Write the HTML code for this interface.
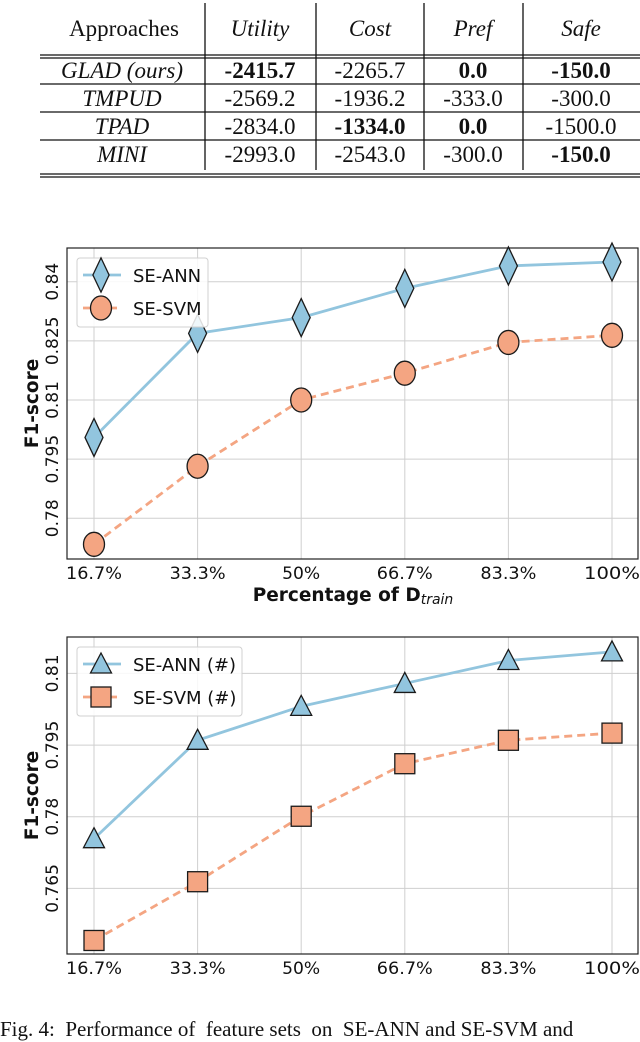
<!DOCTYPE html>
<html><head><meta charset="utf-8">
<style>
html,body{margin:0;padding:0;background:#fff;}
body{width:640px;height:1027px;overflow:hidden;position:relative;font-family:"Liberation Serif",serif;}
#tbl{position:absolute;left:0;top:0;}
#caption{position:absolute;left:0;top:1017px;font-size:21px;white-space:nowrap;color:#111;}
</style></head>
<body>
<svg id="tbl" width="640" height="190" font-family="Liberation Serif, serif" font-size="23" fill="#111">
  <g stroke="#111" stroke-width="1.3">
    <line x1="205" y1="3" x2="205" y2="170"/><line x1="316" y1="3" x2="316" y2="170"/>
    <line x1="424" y1="3" x2="424" y2="170"/><line x1="523" y1="3" x2="523" y2="170"/>
    <line x1="40" y1="55" x2="640" y2="55"/><line x1="40" y1="58" x2="640" y2="58"/>
    <line x1="40" y1="84" x2="640" y2="84"/><line x1="40" y1="112" x2="640" y2="112"/>
    <line x1="40" y1="140" x2="640" y2="140"/>
    <line x1="40" y1="174" x2="640" y2="174"/><line x1="40" y1="177" x2="640" y2="177"/>
  </g>
  <g text-anchor="middle">
    <text x="124" y="36">Approaches</text>
    <text x="260" y="36" font-style="italic">Utility</text>
    <text x="370" y="36" font-style="italic">Cost</text>
    <text x="473" y="36" font-style="italic">Pref</text>
    <text x="581" y="36" font-style="italic">Safe</text>

    <text x="122" y="78" font-style="italic">GLAD (ours)</text>
    <text x="260" y="78" font-weight="bold">-2415.7</text><text x="370" y="78">-2265.7</text>
    <text x="473" y="78" font-weight="bold">0.0</text><text x="581" y="78" font-weight="bold">-150.0</text>

    <text x="122" y="106" font-style="italic">TMPUD</text>
    <text x="260" y="106">-2569.2</text><text x="370" y="106">-1936.2</text>
    <text x="473" y="106">-333.0</text><text x="581" y="106">-300.0</text>

    <text x="122" y="134" font-style="italic">TPAD</text>
    <text x="260" y="134">-2834.0</text><text x="370" y="134" font-weight="bold">-1334.0</text>
    <text x="473" y="134" font-weight="bold">0.0</text><text x="581" y="134">-1500.0</text>

    <text x="122" y="162" font-style="italic">MINI</text>
    <text x="260" y="162">-2993.0</text><text x="370" y="162">-2543.0</text>
    <text x="473" y="162">-300.0</text><text x="581" y="162" font-weight="bold">-150.0</text>
  </g>
</svg>

<svg id="chart1" width="640" height="400" style="position:absolute;left:0;top:220px"></svg>
<svg id="chart2" width="640" height="380" style="position:absolute;left:0;top:600px"></svg>

<div id="caption">Fig. 4:&nbsp; Performance of&nbsp; feature sets&nbsp; on&nbsp; SE-ANN and SE-SVM and</div>

<script>
const categories = ["16.7%", "33.3%", "50%", "66.7%", "83.3%", "100%"];
const c1Ticks = [0.78, 0.795, 0.81, 0.825, 0.84];
const c1Ann = [0.8005, 0.8269, 0.8309, 0.8383, 0.8440, 0.8450];
const c1Svm = [0.7734, 0.7932, 0.8100, 0.8168, 0.8246, 0.8264];
const c2Ticks = [0.765, 0.78, 0.795, 0.81];
const c2Ann = [0.7754, 0.7960, 0.8031, 0.8079, 0.8127, 0.8145];
const c2Svm = [0.7541, 0.7664, 0.7801, 0.7911, 0.7960, 0.7975];

const NS = "http://www.w3.org/2000/svg";
function mk(parent, tag, attrs, text) {
  const e = document.createElementNS(NS, tag);
  for (const k in attrs) e.setAttribute(k, attrs[k]);
  if (text !== undefined) e.textContent = text;
  parent.appendChild(e);
  return e;
}
function marker(g, shape, x, y, fill, s) {
  s = s || 1;
  let e;
  if (shape === "diamond") e = mk(g, "polygon", {points: `${x},${y-19*s} ${x+9*s},${y} ${x},${y+19*s} ${x-9*s},${y}`, fill, stroke: "#1a1a1a", "stroke-width": 1.3});
  else if (shape === "circle") e = mk(g, "ellipse", {cx: x, cy: y, rx: 10.5*s, ry: 12*s, fill, stroke: "#1a1a1a", "stroke-width": 1.3});
  else if (shape === "triangle") e = mk(g, "polygon", {points: `${x},${y-11*s} ${x+10.5*s},${y+9*s} ${x-10.5*s},${y+9*s}`, fill, stroke: "#1a1a1a", "stroke-width": 1.3});
  else e = mk(g, "rect", {x: x-10*s, y: y-10*s, width: 20*s, height: 20*s, fill, stroke: "#1a1a1a", "stroke-width": 1.3});
  return e;
}
function drawChart(svg, o) {
  const L = 67, R = 638, T = o.top, B = o.bottom;
  const xs = [94, 197, 301, 405, 508, 612];
  const xOf = i => xs[0] + (xs[5] - xs[0]) * i / (categories.length - 1);
  const yOf = v => o.y0px + (v - o.t0) * (o.y1px - o.y0px) / (o.t1 - o.t0);
  categories.forEach((c, i) => {
    const l = mk(svg, "line", {x1: xOf(i), x2: xOf(i), y1: T, y2: B, stroke: "#cfcfcf", "stroke-width": 1});
    
    
    const t = mk(svg, "text", {x: xOf(i), y: B + 20, "text-anchor": "middle", "font-family": "DejaVu Sans, sans-serif", "font-size": 17, fill: "#111", textLength: c.length > 3 ? 56 : 38, lengthAdjust: "spacingAndGlyphs"}, c);
    
    
  });
  o.ticks.forEach(v => {
    const y = yOf(v);
    const l = mk(svg, "line", {x1: L, x2: R, y1: y, y2: y, stroke: "#cfcfcf", "stroke-width": 1});
    
    
    const t = mk(svg, "text", {x: 0, y: 0, transform: `translate(58,${y}) rotate(-90)`, "text-anchor": "middle", "font-family": "DejaVu Sans, sans-serif", "font-size": 17, fill: "#111"}, String(v));
    
    
  });
  const frame = mk(svg, "rect", {x: L, y: T, width: R - L, height: B - T, fill: "none", stroke: "#222", "stroke-width": 1.2});
  
  
  const yl = mk(svg, "text", {x: 0, y: 0, transform: `translate(38,${(T + B) / 2}) rotate(-90)`, "text-anchor": "middle", "font-family": "DejaVu Sans, sans-serif", "font-size": 18.5, "font-weight": "bold", fill: "#111"}, "F1-score");
  
  
  const xl = mk(svg, "text", {x: 353, y: B + 42, "text-anchor": "middle", "font-family": "DejaVu Sans, sans-serif", "font-size": 18.5, "font-weight": "bold", fill: "#111"});
  
  
  xl.appendChild(document.createTextNode("Percentage of D"));
  mk(xl, "tspan", {"font-size": 14, "font-weight": "normal", "font-style": "italic", dy: 3}, "train");

  const series = [
    {vals: o.svm, color: "#f4a582", dash: "8,5", shape: o.shapes[1], name: "series-svm"},
    {vals: o.ann, color: "#92c5de", dash: "", shape: o.shapes[0], name: "series-ann"}
  ];
  series.forEach(s => {
    const pts = s.vals.map((v, i) => `${xOf(i)},${yOf(v)}`).join(" ");
    const pl = mk(svg, "polyline", {points: pts, fill: "none", stroke: s.color, "stroke-width": 2.8, "stroke-dasharray": s.dash});
    
    
  });
  series.forEach(s => {
    s.vals.forEach((v, i) => {
      const m = marker(svg, s.shape, xOf(i), yOf(v), s.color, 1);
      
      
    });
  });
  const lg = mk(svg, "g", {});
  
  
  mk(lg, "rect", {x: 77, y: T + 10, width: o.legW, height: 69, rx: 3, fill: "#fff", "fill-opacity": 0.85, stroke: "#d0d0d0"});
  [[series[1], o.labels[0], T + 27], [series[0], o.labels[1], T + 60]].forEach(([s, lab, y]) => {
    mk(lg, "line", {x1: 83, x2: 121, y1: y, y2: y, stroke: s.color, "stroke-width": 2.8, "stroke-dasharray": s.dash});
    marker(lg, s.shape, 101, y, s.color, s.shape === "diamond" ? 0.9 : 1);
    const t = mk(lg, "text", {x: 133, y: y + 7, "font-family": "DejaVu Sans, sans-serif", "font-size": 18, fill: "#111"}, lab);
    
    
  });
}
drawChart(document.getElementById("chart1"), {
  top: 28, bottom: 339, ticks: c1Ticks, t0: 0.78, t1: 0.84, y0px: 298.3, y1px: 61.7,
  ann: c1Ann, svm: c1Svm, shapes: ["diamond", "circle"], labels: ["SE-ANN", "SE-SVM"], legW: 131
});
drawChart(document.getElementById("chart2"), {
  top: 37, bottom: 354, ticks: c2Ticks, t0: 0.765, t1: 0.81, y0px: 288.4, y1px: 73.4,
  ann: c2Ann, svm: c2Svm, shapes: ["triangle", "square"], labels: ["SE-ANN (#)", "SE-SVM (#)"], legW: 165
});
</script>
</body></html>
